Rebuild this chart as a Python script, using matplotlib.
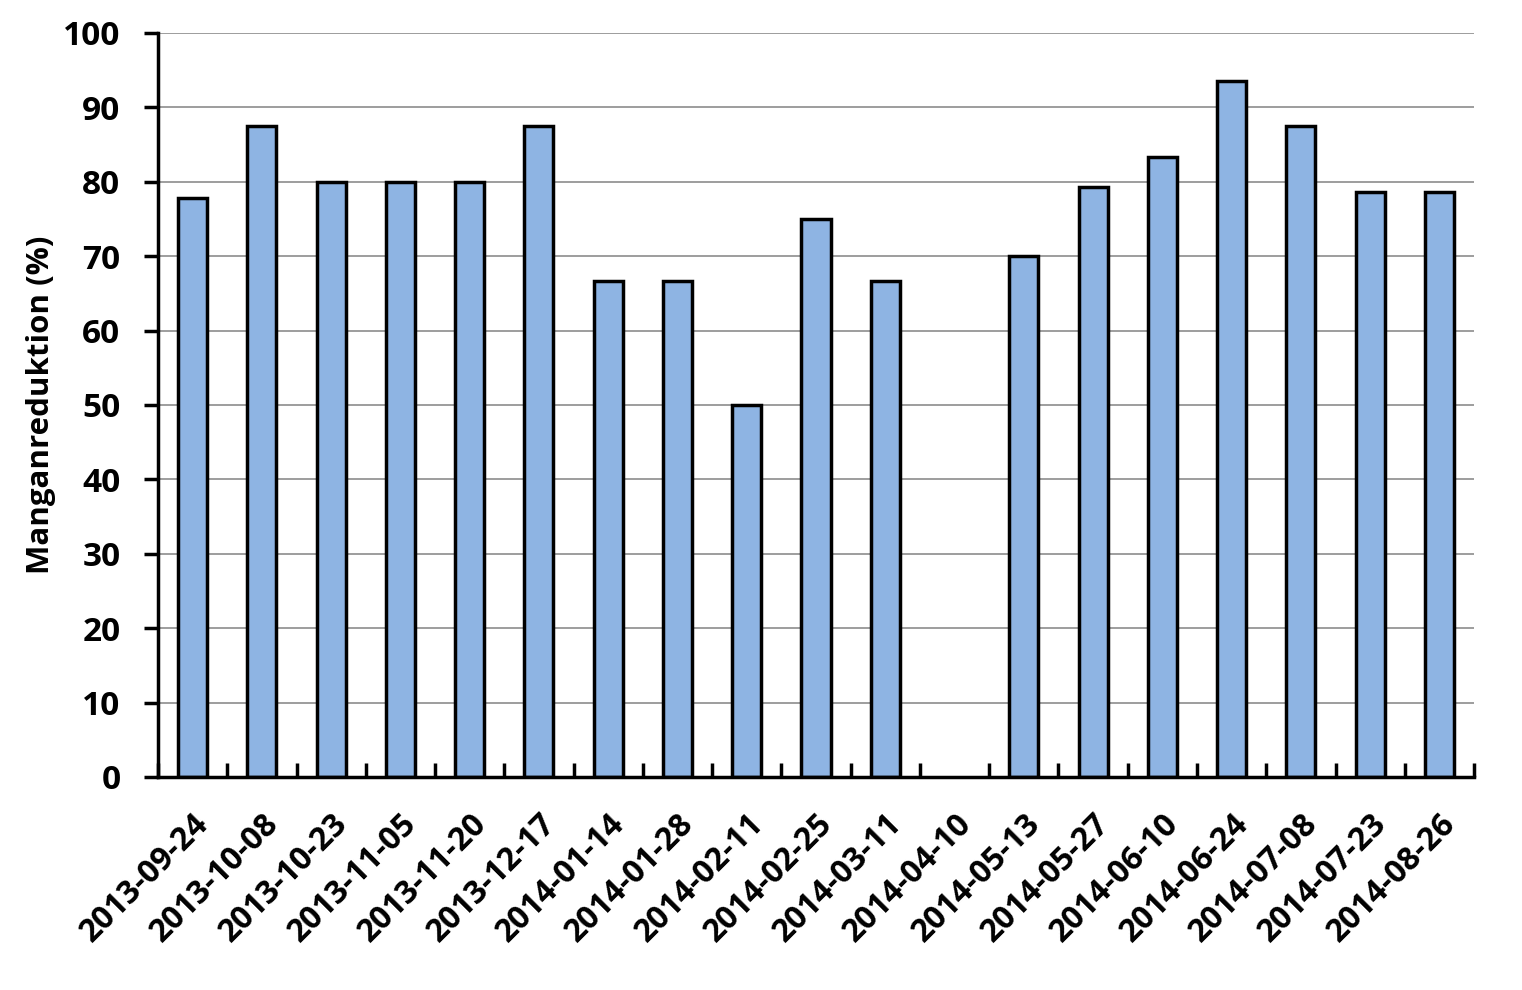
import numpy as np
import matplotlib
matplotlib.use('Agg')
import matplotlib.pyplot as plt

# Sample dates and manganese reduction (%); 2014-04-10 has no value
dates = ['2013-09-24', '2013-10-08', '2013-10-23', '2013-11-05', '2013-11-20',
         '2013-12-17', '2014-01-14', '2014-01-28', '2014-02-11', '2014-02-25',
         '2014-03-11', '2014-04-10', '2014-05-13', '2014-05-27', '2014-06-10',
         '2014-06-24', '2014-07-08', '2014-07-23', '2014-08-26']
reduction = [77.8, 87.5, 80.0, 80.0, 80.0, 87.5, 66.7, 66.7, 50.0, 75.0,
             66.7, np.nan, 70.0, 79.3, 83.3, 93.5, 87.5, 78.6, 78.6]

plt.rcParams['font.family'] = ['Open Sans', 'DejaVu Sans']
plt.rcParams['font.weight'] = 'bold'

fig = plt.figure(figsize=(15.22, 9.9), dpi=100)
ax = fig.add_axes([0.1038, 0.2152, 0.8647, 0.7515])

x = np.arange(len(dates))
ax.bar(x, reduction, width=0.42, color='#8EB4E3', edgecolor='black',
       linewidth=2.5, zorder=3)

ax.set_xlim(-0.5, len(dates) - 0.5)
ax.set_ylim(0, 100)
ax.set_yticks(np.arange(0, 101, 10))
ax.yaxis.grid(True, color='#8c8c8c', linewidth=1.2, zorder=0)

# category labels centred, tick marks between categories
ax.set_xticks(x)
ax.set_xticklabels(dates, rotation=45, ha='right', rotation_mode='anchor',
                   fontsize=23, fontweight='bold')
ax.tick_params(axis='x', which='major', length=0, pad=22)
ax.set_xticks(np.arange(-0.5, len(dates), 1), minor=True)
ax.tick_params(axis='x', which='minor', direction='in', length=10, width=2.5)
ax.tick_params(axis='y', direction='out', length=10, width=2.5,
               labelsize=24, pad=17)
for lbl in ax.get_yticklabels():
    lbl.set_fontweight('bold')

ax.set_ylabel('Manganreduktion (%)', fontsize=22.5, fontweight='bold', labelpad=5)

for side in ['top', 'right']:
    ax.spines[side].set_visible(False)
for side in ['left', 'bottom']:
    ax.spines[side].set_linewidth(2.5)
    ax.spines[side].set_zorder(4)

fig.savefig('out.png', dpi=100)
